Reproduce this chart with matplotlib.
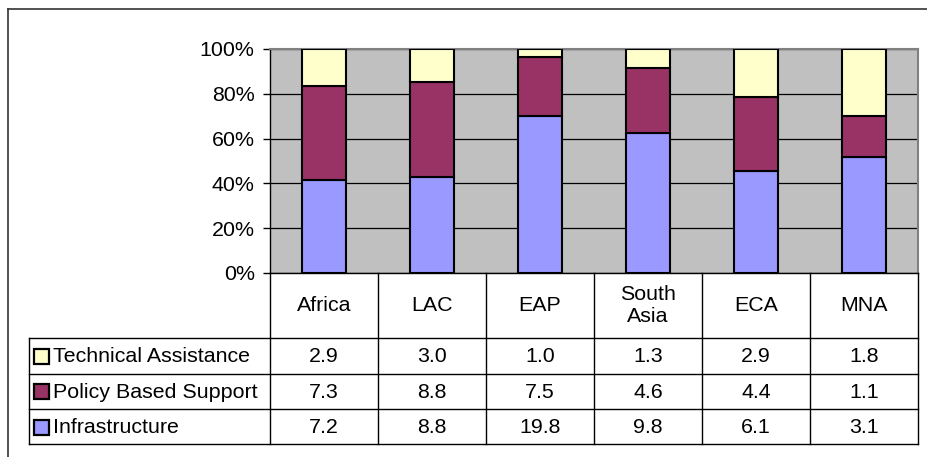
import matplotlib
matplotlib.use("Agg")
import numpy as np
import matplotlib.pyplot as plt
from matplotlib.lines import Line2D
from matplotlib.patches import Rectangle

plt.rcParams['font.family'] = ['Liberation Sans', 'DejaVu Sans']

# ---- data ----
regions = ["Africa", "LAC", "EAP", "South\nAsia", "ECA", "MNA"]
technical_assistance = [2.9, 3.0, 1.0, 1.3, 2.9, 1.8]
policy_support = [7.3, 8.8, 7.5, 4.6, 4.4, 1.1]
infrastructure = [7.2, 8.8, 19.8, 9.8, 6.1, 3.1]

series_names = ["Technical Assistance", "Policy Based Support", "Infrastructure"]
colors = {"Technical Assistance": "#FFFFCC",
          "Policy Based Support": "#993366",
          "Infrastructure": "#9999FF"}

W, H = 928, 457
FS = 15.4


def fx(px):
    return px / W


def fy(py):
    return 1 - py / H


fig = plt.figure(figsize=(W / 100, H / 100), dpi=100)

# ---- stacked 100% bars ----
ax = fig.add_axes([fx(270), fy(273), fx(918) - fx(270), fy(49) - fy(273)])
ax.set_facecolor("#C0C0C0")

infra = np.array(infrastructure)
pol = np.array(policy_support)
ta = np.array(technical_assistance)
total = infra + pol + ta
x = np.arange(len(regions))

bar_kw = dict(width=0.4, edgecolor="black", linewidth=1.5, zorder=3)
ax.bar(x, infra / total * 100, color=colors["Infrastructure"], **bar_kw)
ax.bar(x, pol / total * 100, bottom=infra / total * 100,
       color=colors["Policy Based Support"], **bar_kw)
ax.bar(x, ta / total * 100, bottom=(infra + pol) / total * 100,
       color=colors["Technical Assistance"], **bar_kw)

ax.set_xlim(-0.5, len(regions) - 0.5)
ax.set_ylim(0, 100)
ax.set_yticks(np.arange(0, 101, 20))
ax.set_yticklabels([f"{v}%" for v in range(0, 101, 20)], fontsize=FS)
ax.tick_params(axis="y", length=5, width=1, pad=6, color="black")
ax.set_xticks([])
ax.yaxis.grid(True, color="black", linewidth=0.9)
ax.set_axisbelow(True)
ax.spines["left"].set_color("black")
ax.spines["left"].set_linewidth(1)
for s in ("top", "right"):
    ax.spines[s].set_color("#808080")
    ax.spines[s].set_linewidth(1.5)
ax.spines["bottom"].set_visible(False)

# ---- data table underneath ----
tab = fig.add_axes([fx(270), fy(444), fx(918) - fx(270), fy(273) - fy(444)])
tab.set_xlim(-0.5, len(regions) - 0.5)
tab.set_ylim(171, 0)
tab.axis("off")

col_w = 108.0
xl = -0.5 - (270 - 29) / col_w
row_edges = [0, 65, 100.5, 136, 171]
line_kw = dict(color="black", linewidth=1, clip_on=False)

tab.plot([-0.5, len(regions) - 0.5], [0, 0], **line_kw)
for yv in row_edges[1:]:
    tab.plot([xl, len(regions) - 0.5], [yv, yv], **line_kw)
for k in range(len(regions) + 1):
    tab.plot([k - 0.5, k - 0.5], [0, 171], **line_kw)
tab.plot([xl, xl], [65, 171], **line_kw)

for i, name in enumerate(regions):
    tab.text(i, 32.5, name, ha="center", va="center", fontsize=FS,
             linespacing=1.15)

rows = [technical_assistance, policy_support, infrastructure]
for r, (name, vals) in enumerate(zip(series_names, rows)):
    yc = (row_edges[r + 1] + row_edges[r + 2]) / 2
    for i, v in enumerate(vals):
        tab.text(i, yc + 1, f"{v:.1f}", ha="center", va="center", fontsize=FS)
    kx = xl + (34 - 29) / col_w
    tab.add_patch(Rectangle((kx, yc - 7), 15 / col_w, 15,
                            facecolor=colors[name], edgecolor="black",
                            linewidth=1.6, clip_on=False))
    tab.text(xl + (53 - 29) / col_w, yc + 1, name, ha="left", va="center",
             fontsize=FS)

# chart frame
fig.add_artist(Line2D([fx(8), fx(8)], [fy(9), 0], color="#333333", linewidth=1.2))
fig.add_artist(Line2D([fx(8), 1], [fy(9), fy(9)], color="#333333", linewidth=1.2))

fig.savefig("out.png", dpi=100)
